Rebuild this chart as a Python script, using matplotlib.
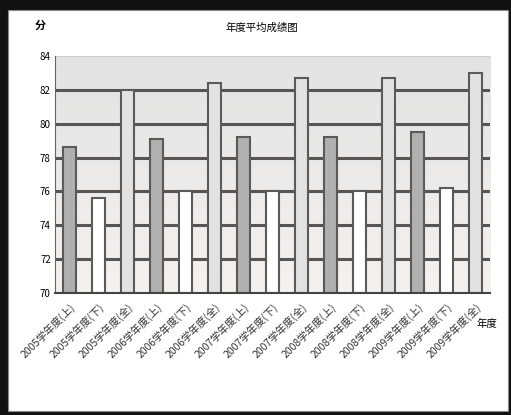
import matplotlib
matplotlib.use("Agg")
import matplotlib.pyplot as plt
from matplotlib.patches import Rectangle
import numpy as np

plt.rcParams['font.family'] = ['Noto Sans CJK SC', 'DejaVu Sans']

years = ["2005", "2006", "2007", "2008", "2009"]
terms = ["学年度(上)", "学年度(下)", "学年度(全)"]
labels = [y + t for y in years for t in terms]
scores = [78.6, 75.6, 82.0,
          79.1, 76.0, 82.4,
          79.2, 76.0, 82.7,
          79.2, 76.0, 82.7,
          79.5, 76.2, 83.0]
bar_colors = ["#b0b0b0", "#ffffff", "#e2e2e2"] * 5
yticks = [70, 72, 74, 76, 78, 80, 82, 84]

fig = plt.figure(figsize=(5.11, 4.15), dpi=100)
fig.patch.set_facecolor("#111111")
fig.patches.append(Rectangle((8 / 511, 4 / 415), 500 / 511, 401 / 415,
                             transform=fig.transFigure, facecolor="white",
                             edgecolor="#888888", lw=0.8, zorder=-10))

ax = fig.add_axes([55 / 511, 122 / 415, 435 / 511, 237 / 415])
x = np.arange(len(scores))

# soft vertical gradient for plot background
grad = np.linspace(0, 1, 100).reshape(-1, 1)
cmap = matplotlib.colors.LinearSegmentedColormap.from_list("bg", ["#f4f2f1", "#e3e3e3"])
ax.imshow(grad, extent=[-0.5, len(scores) - 0.5, 70, 84], origin="lower",
          aspect="auto", cmap=cmap, zorder=0)

ax.set_xlim(-0.5, len(scores) - 0.5)
ax.set_ylim(70, 84)
ax.set_yticks(yticks)
ax.set_yticklabels([str(v) for v in yticks], fontsize=7)
for v in yticks[1:-1]:
    ax.axhline(v, color="#555555", lw=2.2, zorder=1)
ax.axhline(84, color="#cccccc", lw=0.8, zorder=1)

ax.bar(x, [s - 70 for s in scores], bottom=70, width=0.44, color=bar_colors,
       edgecolor="#5a5a5a", linewidth=1.5, zorder=2)

ax.set_xticks(x)
ax.set_xticklabels(labels, rotation=45, ha="right", rotation_mode="anchor",
                   fontsize=7.5, color="#333333")
ax.tick_params(axis="both", length=0, pad=3)
ax.tick_params(axis="x", pad=6)
for s in ["top", "right"]:
    ax.spines[s].set_visible(False)
ax.spines["left"].set_color("#666666")
ax.spines["bottom"].set_color("#444444")
ax.spines["bottom"].set_linewidth(1.5)

fig.text(262 / 511, 1 - 28 / 415, "年度平均成绩图", ha="center", va="center", fontsize=7.5)
fig.text(40 / 511, 1 - 25 / 415, "分", ha="center", va="center", fontsize=8, weight="bold")
fig.text(487 / 511, 1 - 324 / 415, "年度", ha="center", va="center", fontsize=7.5)

fig.savefig("out.png", dpi=100, facecolor=fig.get_facecolor())
